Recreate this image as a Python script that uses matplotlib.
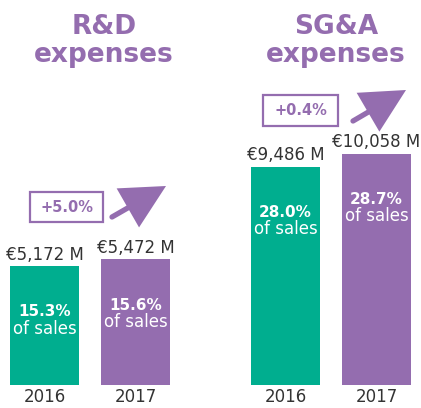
import matplotlib
matplotlib.use('Agg')
import matplotlib.pyplot as plt
from matplotlib.patches import Rectangle, Polygon

# data
groups = ['R&D\nexpenses', 'SG&A\nexpenses']
years = ['2016', '2017']
values = [[5172, 5472], [9486, 10058]]          # M EUR
value_labels = [['€5,172 M', '€5,472 M'], ['€9,486 M', '€10,058 M']]
pct_sales = [['15.3%', '15.6%'], ['28.0%', '28.7%']]
changes = ['+5.0%', '+0.4%']

PURPLE = '#946daf'
TEAL = '#00ae8f'
DARK = '#333333'
W, H = 421, 408

fig = plt.figure(figsize=(W / 100, H / 100), dpi=100)

# bars: x in pixels, y in M EUR (43.5 M per pixel, baseline 23 px from bottom)
ax = fig.add_axes([0, 23 / H, 1, (H - 23) / H])
ax.set_xlim(0, W)
ax.set_ylim(0, (H - 23) * 43.5)
ax.axis('off')

group_centers = [90, 331]
offset = 45.5
bar_w = 69
colors = [TEAL, PURPLE]

for g, gc in enumerate(group_centers):
    for i in range(2):
        x = gc + (i * 2 - 1) * offset
        v = values[g][i]
        ax.bar(x, v, width=bar_w, color=colors[i])
        ax.annotate(value_labels[g][i], (x, v), xytext=(0, 4.7), textcoords='offset points',
                    ha='center', va='baseline', fontsize=12, color=DARK)
        ax.annotate(pct_sales[g][i], (x, v), xytext=(0, -33), textcoords='offset points',
                    ha='center', va='center', fontsize=11, fontweight='bold', color='white')
        ax.annotate('of sales', (x, v), xytext=(0, -45), textcoords='offset points',
                    ha='center', va='center', fontsize=12, color='white')
        ax.annotate(years[i], (x, 0), xytext=(0, -9), textcoords='offset points',
                    ha='center', va='center', fontsize=12, color=DARK)

# titles, change boxes and arrows in pixel coordinates
deco = fig.add_axes([0, 0, 1, 1])
deco.set_xlim(0, W)
deco.set_ylim(H, 0)
deco.axis('off')

title_x = [104, 336]
for t, tx in zip(groups, title_x):
    deco.text(tx, 14, t, ha='center', va='top', fontsize=19, fontweight='bold',
              color=PURPLE, linespacing=1.12)

# box (x0, y0, w, h), arrow tail, arrow tip
boxes = [(30, 192, 73, 30), (263, 95, 75, 31)]
arrows = [((112, 217), (166, 186)), ((353, 121), (406, 90))]
for (bx, by, bw, bh), ch, (tail, tip) in zip(boxes, changes, arrows):
    deco.add_patch(Rectangle((bx, by), bw, bh, fill=False, edgecolor=PURPLE, lw=1.6))
    deco.text(bx + bw / 2, by + bh / 2, ch, ha='center', va='center', fontsize=10.5,
              fontweight='bold', color=PURPLE)
    dx, dy = tip[0] - tail[0], tip[1] - tail[1]
    L = (dx ** 2 + dy ** 2) ** 0.5
    ux, uy = dx / L, dy / L
    hl, hw = 44, 45
    bxm, bym = tip[0] - ux * hl, tip[1] - uy * hl
    deco.plot([tail[0], bxm + ux * 5], [tail[1], bym + uy * 5], color=PURPLE, lw=3.8,
              solid_capstyle='round')
    head = [tip, (bxm - uy * hw / 2, bym + ux * hw / 2), (bxm + uy * hw / 2, bym - ux * hw / 2)]
    deco.add_patch(Polygon(head, closed=True, color=PURPLE, lw=0))

fig.savefig('out.png', dpi=100)
